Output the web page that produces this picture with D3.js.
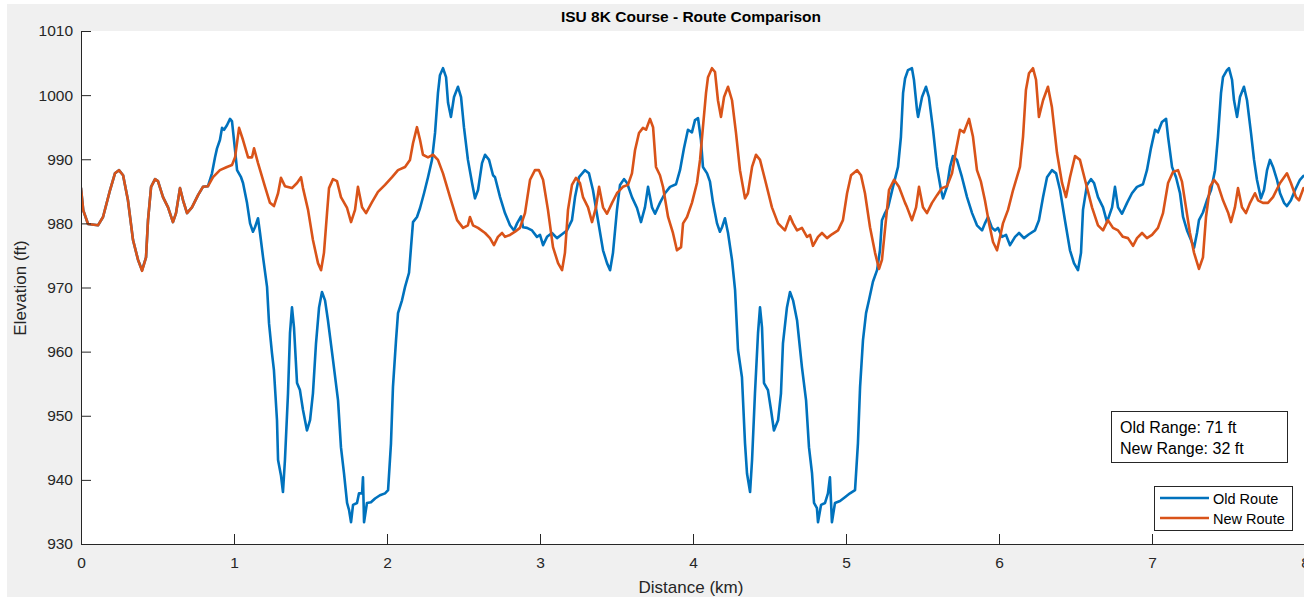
<!DOCTYPE html>
<html>
<head>
<meta charset="utf-8">
<script src="https://cdn.jsdelivr.net/npm/d3@7"></script>
<style>
  html, body { margin: 0; padding: 0; background: #ffffff; }
  svg { display: block; font-family: "Liberation Sans", Arial, Helvetica, sans-serif; }
</style>
</head>
<body>
<svg id="chart" width="1304" height="598"></svg>
<script>
// Axis ticks
const xTicks = [0, 1, 2, 3, 4, 5, 6, 7, 8];
const yTicks = [930, 940, 950, 960, 970, 980, 990, 1000, 1010];

const seriesNames = ["Old Route", "New Route"];
const seriesColors = ["#0072BD", "#D95319"];

// Old route: [distance km, elevation ft]
const oldRoute = [
  [0.000,985.5],[0.015,982.0],[0.046,979.9],[0.111,979.7],[0.144,981.0],[0.190,985.2],[0.222,987.8],[0.248,988.3],
  [0.275,987.5],[0.307,983.6],[0.340,977.4],[0.373,974.3],[0.399,972.7],[0.425,974.7],[0.438,980.5],[0.458,985.7],
  [0.484,986.9],[0.503,986.6],[0.536,984.1],[0.569,982.5],[0.601,980.2],[0.621,981.6],[0.647,985.5],[0.667,983.6],
  [0.693,981.6],[0.725,982.5],[0.765,984.4],[0.797,985.7],[0.830,985.8],
  [0.856,987.8],[0.876,990.3],[0.889,991.7],[0.908,993.0],[0.922,994.9],[0.935,994.6],[0.954,995.3],[0.974,996.3],
  [0.987,995.9],[1.007,991.4],[1.020,988.3],[1.046,987.2],[1.059,986.3],[1.085,983.2],[1.105,980.0],[1.124,978.7],
  [1.137,979.4],[1.157,980.8],[1.170,978.5],[1.190,974.7],[1.216,970.1],[1.229,964.4],[1.248,959.8],[1.261,957.1],
  [1.281,949.3],[1.288,943.1],[1.307,940.7],[1.320,938.1],[1.333,943.1],[1.353,953.5],[1.366,962.9],[1.379,966.9],
  [1.392,963.8],[1.412,955.1],[1.431,954.0],[1.451,950.9],[1.477,947.7],[1.497,949.3],[1.516,953.5],[1.536,961.3],
  [1.556,966.9],[1.575,969.3],[1.595,968.0],[1.614,964.9],[1.647,958.7],[1.680,952.4],[1.699,945.1],[1.719,941.0],
  [1.739,936.4],[1.752,935.3],[1.765,933.4],[1.778,936.1],[1.804,936.4],[1.817,937.9],[1.837,937.9],[1.843,940.4],
  [1.850,933.4],[1.869,936.4],[1.895,936.5],[1.922,937.1],[1.954,937.6],[1.987,937.9],[2.007,938.4],[2.026,945.7],
  [2.039,954.5],[2.059,961.8],[2.072,966.0],[2.098,968.0],[2.118,970.1],[2.144,972.3],[2.157,976.3],[2.170,980.2],
  [2.196,981.0],[2.216,982.4],[2.242,984.7],[2.268,987.2],[2.294,989.9],[2.314,994.1],[2.333,1000.3],[2.346,1003.1],
  [2.366,1004.2],[2.386,1002.8],[2.399,998.8],[2.418,996.6],[2.438,999.7],[2.464,1001.3],[2.484,999.7],[2.503,995.0],
  [2.529,989.9],[2.556,986.3],[2.575,983.9],[2.595,985.2],[2.621,989.4],[2.641,990.7],[2.667,989.9],[2.693,987.5],
  [2.706,987.2],[2.739,984.1],[2.771,981.6],[2.804,979.7],[2.830,978.9],[2.850,980.0],[2.876,981.1],[2.889,979.4],
  [2.915,979.3],[2.948,978.9],[2.980,977.9],[3.000,978.2],[3.020,976.6],[3.046,977.9],[3.078,978.5],[3.111,977.7],
  [3.144,978.3],[3.176,978.9],[3.209,980.5],[3.229,984.1],[3.255,987.2],[3.294,988.3],[3.320,987.8],[3.346,985.2],
  [3.379,980.5],[3.412,975.8],[3.438,973.8],[3.458,972.7],[3.477,975.4],[3.503,982.1],[3.523,986.0],[3.549,986.9],
  [3.569,986.3],[3.601,984.1],[3.634,982.4],[3.660,980.2],[3.686,982.5],[3.706,985.7],[3.732,982.5],[3.752,981.5],
  [3.784,983.2],[3.817,984.7],[3.850,985.7],[3.889,986.1],[3.915,988.3],[3.941,991.7],[3.967,994.6],[3.993,994.2],
  [4.013,996.1],[4.033,996.4],[4.052,993.0],[4.065,988.8],[4.092,987.8],[4.111,986.5],[4.131,983.2],[4.157,980.0],
  [4.176,978.7],[4.190,979.4],[4.209,980.8],[4.229,978.5],[4.255,974.3],[4.275,969.6],[4.294,960.3],[4.320,956.0],
  [4.340,945.7],[4.353,941.0],[4.373,938.1],[4.386,943.1],[4.405,953.5],[4.425,962.9],[4.438,966.9],[4.451,963.8],
  [4.464,955.1],[4.490,954.0],[4.510,950.9],[4.529,947.7],[4.556,949.3],[4.575,953.5],[4.588,961.3],[4.614,966.9],
  [4.634,969.3],[4.654,968.0],[4.680,964.9],[4.712,957.6],[4.739,952.4],[4.758,945.1],[4.778,941.0],[4.791,936.4],
  [4.810,935.6],[4.817,933.4],[4.837,936.1],[4.863,936.4],[4.882,937.9],[4.895,940.4],[4.908,933.4],[4.928,936.4],
  [4.961,936.7],[4.993,937.3],[5.026,937.9],[5.059,938.4],[5.078,945.7],[5.092,954.5],[5.111,961.8],[5.131,966.0],
  [5.150,968.0],[5.176,970.9],[5.203,972.7],[5.222,975.8],[5.235,980.5],[5.255,981.6],[5.275,982.5],[5.307,985.7],
  [5.340,988.8],[5.359,993.5],[5.373,1000.3],[5.386,1002.6],[5.405,1003.9],[5.431,1004.2],[5.444,1002.4],[5.464,997.7],
  [5.471,996.6],[5.497,999.7],[5.523,1001.3],[5.542,999.7],[5.569,994.6],[5.595,988.8],[5.621,985.2],[5.634,983.9],
  [5.660,985.7],[5.680,988.8],[5.699,990.5],[5.725,989.9],[5.758,987.2],[5.791,984.1],[5.824,981.6],[5.856,979.7],
  [5.889,978.9],[5.908,980.0],[5.928,981.0],[5.954,979.3],[5.974,978.9],[5.993,979.3],[6.020,977.9],[6.046,978.2],
  [6.072,976.6],[6.105,977.9],[6.131,978.5],[6.163,977.7],[6.196,978.3],[6.235,978.9],[6.261,980.5],[6.288,984.1],
  [6.314,987.2],[6.346,988.3],[6.373,987.8],[6.399,985.2],[6.431,980.5],[6.464,975.8],[6.490,973.8],[6.516,972.7],
  [6.536,975.4],[6.549,982.1],[6.575,986.0],[6.601,986.9],[6.621,986.3],[6.647,984.1],[6.680,982.5],[6.706,980.2],
  [6.739,982.5],[6.758,985.7],[6.778,982.5],[6.804,981.5],[6.837,983.2],[6.869,984.7],[6.902,985.7],[6.941,986.1],
  [6.967,988.3],[6.993,991.7],[7.020,994.6],[7.039,994.2],[7.065,995.8],[7.092,996.3],[7.105,993.5],[7.131,988.8],
  [7.157,987.2],[7.183,984.7],[7.203,981.0],[7.229,978.9],[7.255,977.4],[7.275,976.2],[7.294,978.5],[7.307,980.5],
  [7.333,981.7],[7.359,983.6],[7.386,985.2],[7.412,988.3],[7.431,993.5],[7.451,1000.3],[7.464,1002.8],[7.490,1003.9],
  [7.503,1004.2],[7.523,1002.4],[7.536,999.2],[7.556,996.6],[7.575,999.7],[7.601,1001.3],[7.621,999.2],[7.647,994.1],
  [7.667,989.9],[7.686,986.8],[7.712,983.9],[7.732,985.2],[7.752,988.3],[7.771,989.9],[7.791,988.8],[7.817,986.8],
  [7.837,984.7],[7.863,983.2],[7.882,982.7],[7.908,983.6],[7.935,985.2],[7.967,986.8],[7.990,987.4]
];

// New route: [distance km, elevation ft]
const newRoute = [
  [0.000,985.5],[0.015,982.0],[0.046,979.9],[0.111,979.7],[0.144,981.0],[0.190,985.2],[0.222,987.8],[0.248,988.3],
  [0.275,987.5],[0.307,983.6],[0.340,977.4],[0.373,974.3],[0.399,972.6],[0.425,974.7],[0.438,980.5],[0.458,985.7],
  [0.484,986.9],[0.503,986.6],[0.536,984.1],[0.569,982.5],[0.601,980.2],[0.621,981.6],[0.647,985.5],[0.667,983.6],
  [0.693,981.6],[0.725,982.5],[0.765,984.4],[0.797,985.7],[0.830,985.8],[0.863,987.2],[0.908,988.3],[0.954,988.8],
  [0.987,989.1],[1.007,990.3],[1.033,994.9],[1.059,993.0],[1.092,990.3],[1.118,990.3],[1.131,991.7],[1.157,989.4],
  [1.203,985.7],[1.235,983.2],[1.261,982.7],[1.288,984.7],[1.307,987.1],[1.333,985.8],[1.379,985.5],[1.412,986.3],
  [1.438,987.2],[1.451,985.5],[1.484,982.1],[1.516,977.4],[1.549,973.8],[1.569,972.7],[1.588,975.4],[1.608,981.6],
  [1.621,985.5],[1.647,986.9],[1.673,986.6],[1.699,984.1],[1.739,982.4],[1.765,980.2],[1.791,982.1],[1.810,985.7],
  [1.837,982.5],[1.863,981.6],[1.902,983.3],[1.941,984.9],[1.987,986.0],[2.033,987.2],[2.072,988.3],[2.118,988.8],
  [2.150,989.9],[2.170,992.5],[2.196,995.0],[2.216,993.0],[2.235,990.7],[2.268,990.3],[2.301,990.7],[2.333,989.9],
  [2.366,987.8],[2.412,984.1],[2.458,980.5],[2.497,979.3],[2.529,979.7],[2.542,981.0],[2.562,979.7],[2.595,979.3],
  [2.641,978.5],[2.673,977.7],[2.699,976.6],[2.725,977.9],[2.752,978.5],[2.771,977.9],[2.804,978.2],[2.837,978.7],
  [2.869,979.3],[2.902,981.6],[2.935,986.8],[2.967,988.3],[2.993,988.3],[3.020,986.8],[3.052,982.1],[3.085,976.3],
  [3.118,973.8],[3.144,972.7],[3.163,975.4],[3.183,982.1],[3.209,986.0],[3.235,987.1],[3.261,986.3],[3.281,984.1],
  [3.314,982.5],[3.340,980.2],[3.366,982.5],[3.386,985.7],[3.412,982.5],[3.438,981.5],[3.471,983.2],[3.503,984.7],
  [3.542,985.7],[3.575,986.0],[3.601,987.8],[3.621,991.4],[3.647,994.1],[3.673,994.9],[3.693,994.6],[3.719,996.3],
  [3.739,995.0],[3.758,988.8],[3.784,987.5],[3.804,985.7],[3.837,981.0],[3.869,978.5],[3.895,975.8],[3.922,976.3],
  [3.935,980.0],[3.961,981.0],[3.993,983.2],[4.026,986.3],[4.046,989.9],[4.065,995.0],[4.085,1000.3],[4.098,1002.8],
  [4.124,1004.2],[4.144,1003.6],[4.163,999.2],[4.183,996.6],[4.203,999.7],[4.229,1001.3],[4.255,999.2],[4.281,994.1],
  [4.307,988.3],[4.340,983.9],[4.359,984.7],[4.386,988.8],[4.412,990.7],[4.438,989.9],[4.471,986.8],[4.516,982.5],
  [4.556,980.0],[4.601,978.9],[4.634,981.1],[4.654,980.0],[4.680,978.9],[4.712,979.3],[4.745,977.9],[4.765,978.2],
  [4.784,976.5],[4.817,977.9],[4.843,978.5],[4.876,977.7],[4.908,978.3],[4.948,978.9],[4.980,980.5],[5.007,984.7],
  [5.033,987.5],[5.072,988.3],[5.098,987.5],[5.124,984.7],[5.157,979.4],[5.190,975.4],[5.216,972.9],[5.235,974.3],
  [5.261,980.5],[5.281,985.2],[5.314,986.8],[5.346,985.7],[5.386,983.2],[5.399,982.5],[5.431,980.5],[5.458,982.5],
  [5.477,985.7],[5.503,982.5],[5.529,981.6],[5.562,983.2],[5.595,984.4],[5.627,985.5],[5.660,985.8],[5.693,987.8],
  [5.719,991.4],[5.745,994.6],[5.771,994.2],[5.804,996.3],[5.830,993.5],[5.856,988.3],[5.882,986.5],[5.908,983.6],
  [5.935,980.0],[5.961,977.1],[5.987,975.8],[6.007,977.9],[6.026,980.0],[6.059,982.1],[6.092,985.2],[6.137,988.8],
  [6.157,993.5],[6.176,1000.8],[6.196,1003.4],[6.222,1004.2],[6.242,1002.4],[6.261,996.6],[6.288,999.2],[6.320,1001.3],
  [6.346,998.1],[6.379,991.0],[6.412,986.3],[6.438,984.1],[6.464,987.2],[6.497,990.5],[6.529,989.9],[6.562,986.8],
  [6.608,982.5],[6.647,979.7],[6.680,978.9],[6.712,980.5],[6.745,979.3],[6.778,978.9],[6.810,977.9],[6.843,977.7],
  [6.876,976.5],[6.902,977.7],[6.935,978.5],[6.967,977.7],[7.000,978.2],[7.039,979.3],[7.072,981.6],[7.105,986.3],
  [7.137,988.0],[7.170,988.3],[7.196,986.5],[7.222,982.5],[7.248,978.5],[7.275,975.4],[7.307,972.9],[7.333,974.7],
  [7.353,981.0],[7.379,985.7],[7.405,986.8],[7.431,986.0],[7.464,983.6],[7.497,981.7],[7.516,980.2],[7.542,982.5],
  [7.562,985.5],[7.588,982.5],[7.614,981.6],[7.641,983.2],[7.673,984.7],[7.693,983.6],[7.725,983.2],[7.758,983.2],
  [7.791,984.1],[7.837,986.3],[7.882,987.8],[7.908,986.3],[7.941,984.1],[7.961,983.6],[7.990,985.5]
];

const routes = [oldRoute, newRoute];

// Layout
const W = 1304, H = 598;
const plot = { left: 81, top: 31, right: 1305, bottom: 544 };
const axisColor = "#262626";

const svg = d3.select("#chart");

// Figure background
svg.append("rect").attr("x", 7).attr("y", 4).attr("width", W - 7).attr("height", H - 5)
  .attr("fill", "#f0f0f0");

// Axes background
svg.append("rect").attr("x", plot.left).attr("y", plot.top)
  .attr("width", plot.right - plot.left).attr("height", plot.bottom - plot.top)
  .attr("fill", "#ffffff");

const x = d3.scaleLinear().domain([0, 8]).range([plot.left, plot.right]);
const y = d3.scaleLinear().domain([930, 1010]).range([plot.bottom, plot.top]);

svg.append("clipPath").attr("id", "plot-clip")
  .append("rect").attr("x", plot.left).attr("y", plot.top)
  .attr("width", plot.right - plot.left).attr("height", plot.bottom - plot.top);

const line = d3.line().x(d => x(d[0])).y(d => y(d[1]));

svg.append("g").attr("clip-path", "url(#plot-clip)")
  .selectAll("path").data(routes).join("path")
  .attr("d", line)
  .attr("fill", "none")
  .attr("stroke", (d, i) => seriesColors[i])
  .attr("stroke-width", 2.6)
  .attr("stroke-linejoin", "round")
  .attr("stroke-linecap", "round");

// Axes with inward ticks
const yAxis = d3.axisLeft(y).tickValues(yTicks).tickFormat(d3.format("d"))
  .tickSizeInner(-10).tickSizeOuter(0).tickPadding(8);
const xAxis = d3.axisBottom(x).tickValues(xTicks).tickFormat(d3.format("d"))
  .tickSizeInner(-10).tickSizeOuter(0).tickPadding(13);

function styleAxis(g) {
  g.select(".domain").attr("stroke", axisColor).attr("stroke-width", 1);
  g.selectAll(".tick line").attr("stroke", axisColor).attr("stroke-width", 1);
  g.selectAll(".tick text").attr("fill", axisColor)
    .style("font-size", "15.5px")
    .style("font-family", '"Liberation Sans", Arial, Helvetica, sans-serif');
}

svg.append("g").attr("transform", `translate(${plot.left},0)`).call(yAxis).call(styleAxis);
svg.append("g").attr("transform", `translate(0,${plot.bottom})`).call(xAxis).call(styleAxis);

// Title and axis labels
svg.append("text").attr("x", 691).attr("y", 22).attr("text-anchor", "middle")
  .attr("fill", "#000000").style("font-size", "15.5px").style("font-weight", "bold")
  .text("ISU 8K Course - Route Comparison");

svg.append("text").attr("x", 691).attr("y", 593).attr("text-anchor", "middle")
  .attr("fill", axisColor).style("font-size", "17px")
  .text("Distance (km)");

svg.append("text").attr("transform", "translate(26,288) rotate(-90)").attr("text-anchor", "middle")
  .attr("fill", axisColor).style("font-size", "17px")
  .text("Elevation (ft)");

// Range annotation
const oldExt = d3.extent(oldRoute, d => d[1]);
const newExt = d3.extent(newRoute, d => d[1]);
const rangeLines = [
  `Old Range: ${Math.round(oldExt[1] - oldExt[0])} ft`,
  `New Range: ${Math.round(newExt[1] - newExt[0])} ft`
];
svg.append("rect").attr("x", 1111.5).attr("y", 411.5).attr("width", 176).attr("height", 51)
  .attr("fill", "#ffffff").attr("stroke", axisColor).attr("stroke-width", 1);
svg.append("g").selectAll("text").data(rangeLines).join("text")
  .attr("x", 1120).attr("y", (d, i) => 433 + i * 20.5)
  .attr("fill", "#000000").style("font-size", "16px")
  .text(d => d);

// Legend
const legend = svg.append("g");
legend.append("rect").attr("x", 1154.5).attr("y", 486.5).attr("width", 138).attr("height", 44)
  .attr("fill", "#ffffff").attr("stroke", axisColor).attr("stroke-width", 1);
const items = legend.selectAll("g.item").data(seriesNames).join("g").attr("class", "item")
  .attr("transform", (d, i) => `translate(0,${498 + i * 20})`);
items.append("line").attr("x1", 1160).attr("x2", 1209).attr("y1", 0).attr("y2", 0)
  .attr("stroke", (d, i) => seriesColors[i]).attr("stroke-width", 2.6);
items.append("text").attr("x", 1213).attr("y", 5.5)
  .attr("fill", "#000000").style("font-size", "14.5px")
  .text(d => d);
</script>
</body>
</html>
